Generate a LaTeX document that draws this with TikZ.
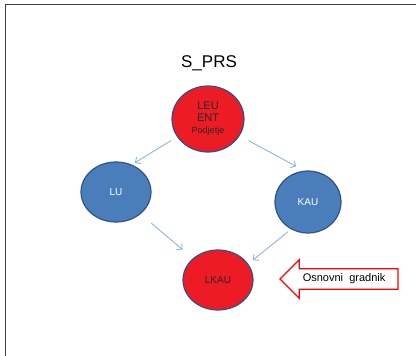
\documentclass[tikz,border=0pt]{standalone}
\usepackage{fontspec}
\setmainfont{Liberation Sans}
\usetikzlibrary{arrows.meta,positioning,shapes.geometric,shapes.arrows}
\definecolor{prsred}{HTML}{ED1C24}
\definecolor{prsblue}{HTML}{4A7EBB}
\definecolor{prsedge}{HTML}{2F528F}
\definecolor{linkblue}{HTML}{8EB4E3}
\definecolor{framegray}{HTML}{404040}

\begin{document}
\begin{tikzpicture}[x=1pt,y=-1pt,
  redunit/.style={ellipse, draw=prsedge, line width=1.2pt, fill=prsred, text=black!85, inner sep=0pt},
  blueunit/.style={ellipse, draw=prsedge, line width=1.2pt, fill=prsblue, text=white, inner sep=0pt},
  link/.style={-{Straight Barb[length=4pt,width=8pt]}, linkblue, line width=0.9pt}]
\useasboundingbox (0,0) rectangle (416,356);
% okvir
\draw[framegray, line width=0.9pt] (5.5,356) -- (5.5,4.5) -- (416,4.5);
\node[font=\fontsize{17}{20}\selectfont] (title) at (209,63) {S\_PRS};
\node[redunit, minimum width=72pt, minimum height=66pt, align=center, font=\fontsize{11}{12}\selectfont] (prs) at (208,119) {LEU\\ENT\\{\fontsize{9}{12}\selectfont Podjetje}};
\node[blueunit, minimum width=70pt, minimum height=60pt, font=\fontsize{10}{12}\selectfont] (lu) at (116,192) {LU};
\node[blueunit, minimum width=66pt, minimum height=62pt, font=\fontsize{10}{12}\selectfont] (kau) at (308,202) {KAU};
\node[redunit, minimum width=70pt, minimum height=60pt, font=\fontsize{10}{12}\selectfont] (lkau) at (218,280) {LKAU};
% povezave
\draw[link, shorten <=7pt, shorten >=3.5pt] (prs.210) -- (lu.60);
\draw[link, shorten <=10pt, shorten >=9pt] (prs.332) -- (kau.97);
\draw[link, shorten <=14pt, shorten >=13.5pt] (lu.318) -- (lkau.139);
\draw[link, shorten <=4pt, shorten >=6pt] (kau.238) -- (lkau.28.5);
% puscica
\node[single arrow, shape border rotate=180, draw=red, line width=1.3pt, fill=white,
  font=\fontsize{11}{13}\selectfont, single arrow head extend=9pt, inner xsep=3pt, inner ysep=4.5pt,
  text height=8pt, text depth=2.3pt, minimum height=118pt, anchor=tip] (gradnik) at (279,279) {Osnovni\ \ gradnik};
\end{tikzpicture}
\end{document}
